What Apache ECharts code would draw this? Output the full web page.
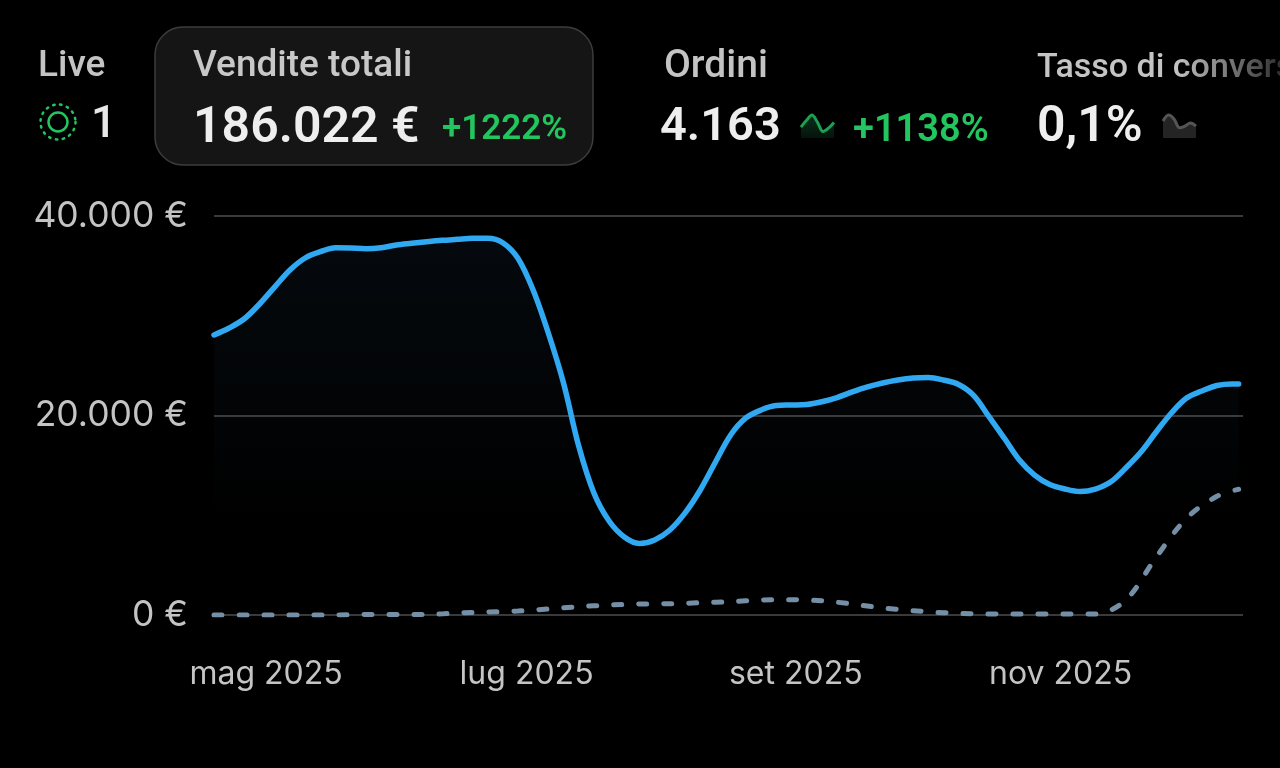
<!DOCTYPE html>
<html lang="it">
<head>
<meta charset="utf-8">
<title>Vendite totali</title>
<style>
  html, body { margin: 0; padding: 0; background: #000; }
  #chart { width: 1280px; height: 768px; }
</style>
</head>
<body>
<div id="chart"></div>
<script src="https://cdn.jsdelivr.net/npm/echarts@6/dist/echarts.min.js"></script>
<script>
// dati letti dal grafico
// periodo precedente: una rilevazione a settimana
const dates = ['2025-04-19','2025-04-26','2025-05-03','2025-05-10','2025-05-17','2025-05-24','2025-05-31','2025-06-07',
  '2025-06-14','2025-06-21','2025-06-28','2025-07-05','2025-07-12','2025-07-19','2025-07-26','2025-08-02','2025-08-09',
  '2025-08-16','2025-08-23','2025-08-30','2025-09-06','2025-09-13','2025-09-20','2025-09-27','2025-10-04','2025-10-11',
  '2025-10-18','2025-10-25','2025-11-01','2025-11-08','2025-11-15','2025-11-22','2025-11-29','2025-12-06','2025-12-11'];
const previous = [0,0,0,0,0,50,50,50,200,300,400,600,830,1000,1100,1130,1230,1330,1500,1530,1430,1100,700,430,230,130,100,100,100,100,1500,5800,9700,11900,12600];

// vendite: due rilevazioni a settimana, giorni contati dal 19 aprile
const salesDays = [0,3.5,7,10.5,14,17.5,21,24.5,28,31.5,35,38.5,42,45.5,49,52.5,56,59.5,63,66.5,70,73.5,77,80.5,84,87.5,91,94.5,
  98,101.5,105,108.5,112,115.5,119,122.5,126,129.5,133,136.5,140,143.5,147,150.5,154,157.5,161,164.5,168,171.5,175,178.5,
  182,185.5,189,192.5,196,199.5,203,206.5,210,213.5,217,220.5,224,227.5,231,234.5,236];
const sales = [28070,28770,29700,31180,32900,34590,35790,36420,36820,36790,36720,36820,37090,37260,37420,37560,37660,37760,
  37760,37320,35760,32580,28270,23260,16940,12230,9420,7820,7170,7520,8520,10230,12530,15340,18050,19750,20550,21000,21050,
  21100,21380,21800,22360,22860,23260,23560,23760,23810,23560,23110,22000,19880,17740,15540,14030,13080,12630,12380,12630,
  13330,14740,16340,18350,20250,21750,22460,23010,23160,23160];

const tickDates = ['2025-05-01','2025-06-30','2025-08-31','2025-10-31'];
const tickLabels = ['mag 2025','lug 2025','set 2025','nov 2025'];
const valueTicks = [0, 20000, 40000];

const sparkOrdini = [4.2,6.8,8.8,6,2.5,3.8,6];
const sparkTasso = [6.5,8.8,7.3,3.9,4.6,5.8,4.6];

const FONT = 'Roboto, sans-serif';
const AXIS_FONT = 'Inter, sans-serif';
const GREEN = '#22c55e';
const DAY = 86400000;
// giorni dal primo punto: l'asse x e' un asse numerico in giorni
const toDay = d => Math.round((Date.UTC(...d.split('-').map((n, i) => i === 1 ? n - 1 : +n)) - Date.UTC(2025, 3, 19)) / DAY);
const tickDays = tickDates.map(toDay);
const euro = v => String(v).replace(/\B(?=(\d{3})+$)/g, '.') + ' €';

function label(left, top, text, size, color, weight) {
  return { type: 'text', left, top, z: 10, style: { text, fill: color, font: `${weight || 500} ${size}px ${FONT}` } };
}

const chart = echarts.init(document.getElementById('chart'), null, { renderer: 'canvas' });
chart.setOption({
  animation: false,
  backgroundColor: '#000',
  grid: [
    { left: 214, top: 216, width: 1029, height: 399 },
    { left: 801, top: 112, width: 33, height: 26 },
    { left: 1163, top: 112, width: 33, height: 26 }
  ],
  xAxis: [
    {
      type: 'value', gridIndex: 0,
      min: 0, max: toDay('2025-12-12'),
      axisLine: { show: false }, axisTick: { show: false }, splitLine: { show: false },
      axisLabel: {
        customValues: tickDays,
        margin: 43, color: '#c4c4c4', fontFamily: AXIS_FONT, fontSize: 32, hideOverlap: false,
        formatter: v => tickLabels[tickDays.indexOf(v)] || ''
      }
    },
    { type: 'category', gridIndex: 1, show: false, boundaryGap: false, data: sparkOrdini.map((_, i) => i) },
    { type: 'category', gridIndex: 2, show: false, boundaryGap: false, data: sparkTasso.map((_, i) => i) }
  ],
  yAxis: [
    {
      type: 'value', gridIndex: 0, min: 0, max: 40000, interval: 20000,
      axisLine: { show: false }, axisTick: { show: false },
      splitLine: { show: true, lineStyle: { color: '#3a3a3a', width: 2 } },
      axisLabel: {
        margin: 26, color: '#c4c4c4', fontFamily: AXIS_FONT, fontSize: 35.5,
        formatter: v => valueTicks.includes(v) ? euro(v) : ''
      }
    },
    { type: 'value', gridIndex: 1, show: false, min: 0, max: 10 },
    { type: 'value', gridIndex: 2, show: false, min: 0, max: 10 }
  ],
  series: [
    {
      name: 'Vendite', type: 'line', xAxisIndex: 0, yAxisIndex: 0, smooth: 0.33, showSymbol: false, z: 4,
      data: salesDays.map((d, i) => [d, sales[i]]),
      lineStyle: { color: '#31a8f2', width: 5.5, cap: 'round' },
      areaStyle: {
        origin: 'start',
        color: new echarts.graphic.LinearGradient(0, 0, 0, 1, [
          { offset: 0, color: 'rgba(60,110,160,0.12)' },
          { offset: 0.55, color: 'rgba(60,110,160,0.035)' },
          { offset: 0.75, color: 'rgba(60,110,160,0)' }
        ])
      }
    },
    {
      name: 'Periodo precedente', type: 'line', xAxisIndex: 0, yAxisIndex: 0, smooth: 0.33, showSymbol: false, z: 3,
      data: dates.map((d, i) => [toDay(d), previous[i]]),
      lineStyle: { color: '#7590a6', width: 5, type: [8, 17], cap: 'round' }
    },
    {
      name: 'Ordini', type: 'line', xAxisIndex: 1, yAxisIndex: 1, smooth: 0.33, showSymbol: false,
      data: sparkOrdini,
      lineStyle: { color: '#1e9e50', width: 3 },
      areaStyle: {
        color: new echarts.graphic.LinearGradient(0, 0, 0, 1, [
          { offset: 0, color: 'rgba(30,140,80,0.5)' }, { offset: 1, color: 'rgba(30,140,80,0.2)' }
        ])
      }
    },
    {
      name: 'Tasso', type: 'line', xAxisIndex: 2, yAxisIndex: 2, smooth: 0.33, showSymbol: false,
      data: sparkTasso,
      lineStyle: { color: '#555', width: 3 },
      areaStyle: { color: '#242424', opacity: 1 }
    }
  ],
  graphic: [
    // card selezionata
    { type: 'rect', z: 1, shape: { x: 155, y: 27, width: 438, height: 138, r: 28 },
      style: { fill: '#151515', stroke: '#3c3c3c', lineWidth: 1.5 } },

    label(38, 48, 'Live', 37, '#c4c4c4'),
    { type: 'circle', z: 10, shape: { cx: 58, cy: 122, r: 9.5 }, style: { fill: 'none', stroke: GREEN, lineWidth: 2.5 } },
    { type: 'circle', z: 10, shape: { cx: 58, cy: 122, r: 17.5 },
      style: { fill: 'none', stroke: GREEN, lineWidth: 2.5, lineDash: [1.5, 5.5], lineCap: 'round' } },
    label(91, 103, '1', 45, '#e8e8e8'),

    label(193, 48, 'Vendite totali', 37, '#c8c8c8'),
    label(193, 104, '186.022 €', 50, '#eeeeee', 600),
    label(442, 113, '+1222%', 35, GREEN, 600),

    label(664, 48, 'Ordini', 39, '#c4c4c4'),
    label(660, 105, '4.163', 47, '#eeeeee', 600),
    label(853, 112, '+1138%', 38, GREEN, 600),

    label(1037, 51, 'Tasso di convers', 34, '#c4c4c4'),
    label(1037, 103, '0,1%', 50, '#eeeeee', 600),

    // sfumatura sul bordo destro
    { type: 'rect', z: 20, shape: { x: 1175, y: 40, width: 105, height: 50 },
      style: { fill: new echarts.graphic.LinearGradient(0, 0, 1, 0, [
        { offset: 0, color: 'rgba(0,0,0,0)' }, { offset: 1, color: 'rgba(0,0,0,0.75)' }
      ]) } }
  ]
});
</script>
</body>
</html>
